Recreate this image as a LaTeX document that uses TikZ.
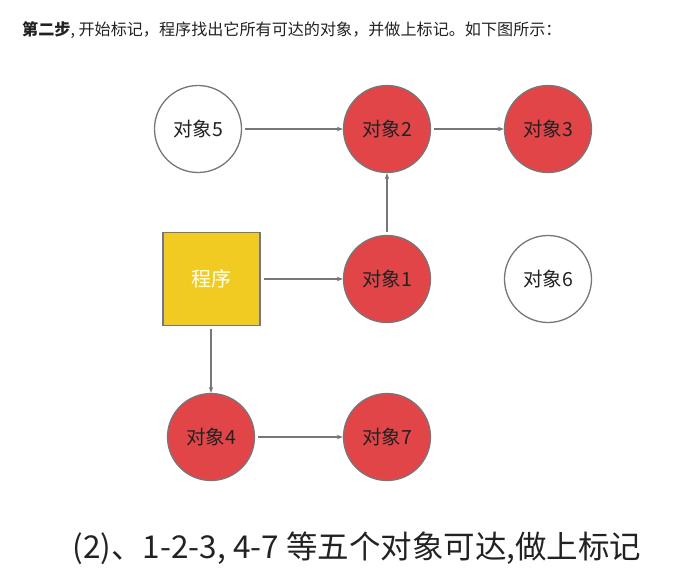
\documentclass[tikz,border=0pt]{standalone}
\usepackage{fontspec}
\setmainfont{Noto Sans CJK SC}
\usetikzlibrary{arrows.meta}
\definecolor{objred}{HTML}{E24548}
\definecolor{progyellow}{HTML}{F2CB22}
\definecolor{edgegray}{HTML}{777777}
\definecolor{txt}{HTML}{222222}
\tikzset{
  obj/.style={circle, draw=edgegray, line width=1.3pt, minimum size=87pt, inner sep=0pt, font=\fontsize{19.5}{22}\selectfont, text=txt},
  reached/.style={obj, fill=objred},
  free/.style={obj, fill=white},
  prog/.style={rectangle, draw=edgegray, line width=1.3pt, fill=progyellow, minimum width=97pt, minimum height=93pt, font=\fontsize{20}{22}\selectfont, text=white},
  link/.style={draw=edgegray, line width=1.2pt, -{Stealth[length=6pt,width=4.5pt]}, shorten <=3pt}
}
\begin{document}
\begin{tikzpicture}[x=1pt,y=-1pt]
\useasboundingbox (0,0) rectangle (696,574);
\node[anchor=west, inner sep=0pt, text=txt, font=\fontsize{16.1}{18}\selectfont] (title) at (22,30) {\textbf{第二步}, 开始标记，程序找出它所有可达的对象，并做上标记。如下图所示：};
\node[free] (o5) at (198,129) {对象5};
\node[reached] (o2) at (387,129) {对象2};
\node[reached] (o3) at (548,129) {对象3};
\node[prog] (p) at (211.5,279) {程序};
\node[reached] (o1) at (387,279) {对象1};
\node[free] (o6) at (548,279) {对象6};
\node[reached] (o4) at (211,437) {对象4};
\node[reached] (o7) at (387,437) {对象7};
\draw[link] (o5) -- (o2);
\draw[link] (o2) -- (o3);
\draw[link] (o1) -- (o2);
\draw[link] (p) -- (o1);
\draw[link] (p.south -| o4) -- (o4);
\draw[link] (o4) -- (o7);
\node[inner sep=0pt, text=txt, font=\fontsize{31.5}{34}\selectfont] (cap) at (357,548) {(2)、1-2-3, 4-7 等五个对象可达,做上标记};
\end{tikzpicture}
\end{document}
